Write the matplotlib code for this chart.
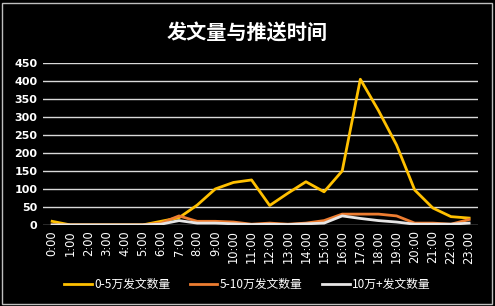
import matplotlib
matplotlib.use("Agg")
import matplotlib.pyplot as plt
from matplotlib.patches import Rectangle

plt.rcParams['font.family'] = ['Noto Sans CJK SC', 'DejaVu Sans']

hours = [f"{h}:00" for h in range(24)]
s_low = [10, 0, 0, 0, 0, 0, 10, 20, 55, 100, 118, 125, 54, 88, 120, 92, 150, 405, 318, 222, 97, 47, 23, 19]
s_mid = [0, 0, 0, 0, 0, 0, 5, 25, 10, 10, 8, 2, 5, 2, 5, 12, 30, 30, 30, 25, 5, 5, 2, 15]
s_high = [0, 0, 0, 0, 0, 0, 2, 12, 5, 5, 3, 1, 2, 1, 3, 5, 25, 18, 12, 8, 2, 2, 2, 5]
names = ["0-5万发文数量", "5-10万发文数量", "10万+发文数量"]
title = "发文量与推送时间"
yticks = [0, 50, 100, 150, 200, 250, 300, 350, 400, 450]

fig = plt.figure(figsize=(4.95, 3.06), dpi=100, facecolor='black')
fig.patches.append(Rectangle((0.004, 0.006), 0.99, 0.985, transform=fig.transFigure,
                             facecolor='none', edgecolor='#BFBFBF', linewidth=1.0, zorder=10))
ax = fig.add_axes([0.087, 0.265, 0.879, 0.529])
ax.set_facecolor('black')
x = list(range(24))
for ys, c, n in [(s_low, '#FFC000', names[0]), (s_mid, '#ED7D31', names[1]), (s_high, '#E7E6E6', names[2])]:
    ax.plot(x, ys, color=c, lw=2.0, label=n, solid_joinstyle='round', zorder=3)
ax.set_xlim(-0.5, 23.5)
ax.set_ylim(0, 450)
ax.set_yticks(yticks)
ax.set_yticklabels([str(v) for v in yticks], fontsize=8, fontweight='bold', color='white', family='DejaVu Sans')
ax.set_xticks(x)
ax.set_xticklabels(hours, rotation=90, fontsize=8.3, color='white', family='DejaVu Sans')
ax.grid(axis='y', color='#D9D9D9', lw=1.0)
ax.set_axisbelow(True)
for sp in ax.spines.values():
    sp.set_visible(False)
ax.tick_params(length=0, pad=4)
fig.text(0.5, 0.892, title, ha='center', va='center', color='white', fontsize=14.5, fontweight='bold')
leg = fig.legend(loc='center', bbox_to_anchor=(0.5, 0.069), ncol=3, frameon=False, fontsize=8.5,
                 handlelength=2.3, columnspacing=1.7, handletextpad=0.2)
for t in leg.get_texts():
    t.set_color('white')
fig.savefig('out.png', dpi=100, facecolor='black')
